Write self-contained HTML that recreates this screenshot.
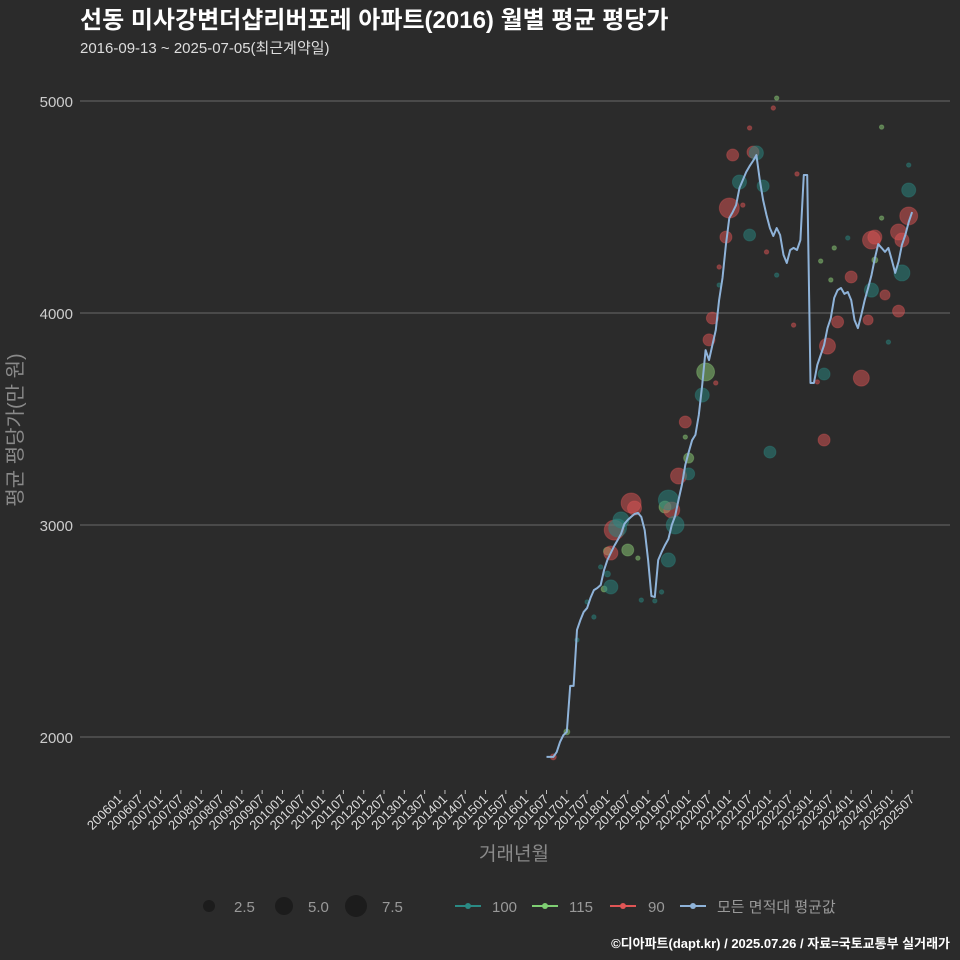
<!DOCTYPE html>
<html><head><meta charset="utf-8"><style>
body{margin:0;background:#2b2b2b;}
svg{display:block;font-family:"Liberation Sans","Noto Sans CJK KR",sans-serif;}
</style></head><body>
<svg id="c" width="960" height="960" viewBox="0 0 960 960">
<rect width="960" height="960" fill="#2b2b2b"/>
<text x="80" y="28" fill="#ffffff" font-size="24" font-weight="bold">선동 미사강변더샵리버포레 아파트(2016) 월별 평균 평당가</text>
<text x="80" y="53" fill="#dddddd" font-size="15">2016-09-13 ~ 2025-07-05(최근계약일)</text>
<g id="grid"></g>
<g id="yax"></g>
<g id="xax"></g>
<g id="pts"></g>
<g id="ln"></g>
<text transform="translate(22,430) rotate(-90)" text-anchor="middle" fill="#8a8a8a" font-size="20">평균 평당가(만 원)</text>
<text x="514" y="860" text-anchor="middle" fill="#8a8a8a" font-size="19">거래년월</text>
<g>
<circle cx="209" cy="906" r="6" fill="#1c1c1c"/>
<text x="234" y="912" fill="#999" font-size="15">2.5</text>
<circle cx="284" cy="906" r="9" fill="#1c1c1c"/>
<text x="308" y="912" fill="#999" font-size="15">5.0</text>
<circle cx="356" cy="906" r="11" fill="#1c1c1c"/>
<text x="382" y="912" fill="#999" font-size="15">7.5</text>
<line x1="455" y1="906" x2="481" y2="906" stroke="#2a8a84" stroke-width="2"/>
<circle cx="468" cy="906" r="3" fill="#2a8a84"/>
<text x="492" y="912" fill="#999" font-size="15">100</text>
<line x1="532" y1="906" x2="558" y2="906" stroke="#7fcf73" stroke-width="2"/>
<circle cx="545" cy="906" r="3" fill="#7fcf73"/>
<text x="569" y="912" fill="#999" font-size="15">115</text>
<line x1="610" y1="906" x2="636" y2="906" stroke="#e05555" stroke-width="2"/>
<circle cx="623" cy="906" r="3" fill="#e05555"/>
<text x="648" y="912" fill="#999" font-size="15">90</text>
<line x1="680" y1="906" x2="706" y2="906" stroke="#8fb3d9" stroke-width="2"/>
<circle cx="693" cy="906" r="3" fill="#8fb3d9"/>
<text x="717" y="912" fill="#999" font-size="15">모든 면적대 평균값</text>
</g>
<text x="950" y="948" text-anchor="end" fill="#ffffff" font-size="13" font-weight="bold">©디아파트(dapt.kr) / 2025.07.26 / 자료=국토교통부 실거래가</text>
</svg>
<script>
// months counted from 2006-01 (index 0)
const yTicks=[2000,3000,4000,5000];
const lineStart=126;
const lineValues=[1906,1906,1906,1929,1976,2009,2024,2241,2241,2505,2552,2590,2608,2656,2693,2703,2717,2788,2835,2868,2901,2929,2958,3005,3024,3038,3052,3057,3038,2976,2835,2665,2660,2835,2872,2905,2934,3000,3042,3118,3189,3283,3344,3400,3425,3519,3660,3825,3778,3849,3920,4061,4165,4321,4448,4476,4509,4590,4627,4665,4693,4717,4745,4627,4533,4462,4401,4363,4401,4368,4274,4236,4297,4307,4297,4344,4651,4651,3670,3670,3755,3802,3849,3929,3976,4071,4108,4118,4090,4099,4061,3967,3929,3991,4061,4118,4179,4259,4325,4307,4288,4307,4250,4189,4241,4321,4368,4429,4476];
const ptMonth=[128,132,135,138,140,142,144,143,145,144,145,146,147,148,151,152,150,153,154,158,160,161,163,164,162,162,165,168,168,167,167,172,173,176,174,175,177,177,179,180,183,181,186,187,188,190,184,191,194,192,186,194,193,200,199,206,208,208,209,212,210,207,211,215,216,219,221,222,222,223,223,225,226,230,230,231,233,233,231,233,225,227];
const ptValue=[1906,2024,2458,2637,2566,2802,2769,2698,2708,2877,2868,2976,2986,3024,3104,3080,2882,2844,2646,2642,2684,3085,3071,3000,2835,3118,3231,3241,3316,3415,3486,3613,3722,3670,3873,3976,4217,4132,4358,4495,4618,4745,4368,4759,4755,4599,4509,4288,4179,3344,4873,5014,4967,4656,3943,3675,3712,3401,3844,3958,4156,4245,4307,4354,4170,3693,3967,4108,4344,4358,4250,4448,4085,4009,4382,4189,4458,4580,4344,4698,4877,3863];
const ptSize=[0.56,0.56,0.25,0.25,0.25,0.25,0.56,0.56,3.1,1,3.1,6.25,5,4,6.25,3.1,2.25,0.25,0.25,0.25,0.25,2.25,4,5,3.1,6.25,4,2.25,1.6,0.25,2.25,3.1,5,0.25,2.25,2.25,0.25,0.25,2.25,6.25,3.1,2.25,2.25,2.25,3.1,2.25,0.25,0.25,0.25,2.25,0.25,0.25,0.25,0.25,0.25,0.25,2.25,2.25,4,2.25,0.25,0.25,0.25,0.25,2.25,4,1.6,3.1,5,3.1,0.56,0.25,1.6,2.25,4,4,5,3.1,3.1,0.25,0.25,0.25];
const ptType=["90","115","100","100","100","100","100","115","100","115","90","90","100","100","90","90","115","115","100","100","100","115","90","100","100","100","90","100","115","115","90","100","115","90","90","90","90","100","90","90","100","90","100","90","100","100","90","90","100","100","90","115","90","90","90","90","100","90","90","90","115","115","115","100","90","90","90","100","90","90","115","115","90","90","90","100","90","100","90","100","115","100"];
const colors={"100":"#2a8a84","115":"#8fd17a","90":"#e05555"};
const NS="http://www.w3.org/2000/svg";
const X=m=>120+3.385*m;
const Y=v=>737-(v-2000)*0.212;
function mk(tag,attrs,parent){const e=document.createElementNS(NS,tag);for(const k in attrs)e.setAttribute(k,attrs[k]);parent.appendChild(e);return e;}
const grid=document.getElementById('grid'),yax=document.getElementById('yax'),xax=document.getElementById('xax');
yTicks.forEach(t=>{
 const l=mk('line',{x1:80,x2:950,y1:Y(t),y2:Y(t),stroke:'#6a6a6a','stroke-width':1},grid);
 
 
 const tx=mk('text',{x:73,y:Y(t)+6,'text-anchor':'end',fill:'#cccccc','font-size':15},yax);
 tx.textContent=t;
 
 
});
for(let m=0;m<=234;m+=6){
 const yr=2006+Math.floor(m/12),mo=m%12+1;
 const lab=yr+(mo<10?'0':'')+mo;
 const x=X(m);
 const tk=mk('line',{x1:x,x2:x,y1:790,y2:794,stroke:'#bbbbbb'},xax);
 
 
 const tx=mk('text',{transform:`translate(${x+3},${800}) rotate(-45)`,'text-anchor':'end',fill:'#dddddd','font-size':13},xax);
 tx.textContent=lab;
 
 
}
const pts=document.getElementById('pts');
ptValue.forEach((v,i)=>{
 const c=mk('circle',{cx:X(ptMonth[i]),cy:Y(v),r:Math.max(2.2,4*Math.sqrt(ptSize[i])),fill:colors[ptType[i]],'fill-opacity':0.5,stroke:colors[ptType[i]],'stroke-opacity':0.35},pts);
 
 
});
const d=lineValues.map((v,i)=>(i?'L':'M')+X(lineStart+i).toFixed(1)+','+Y(v).toFixed(1)).join('');
const p=mk('path',{d:d,fill:'none',stroke:'#8fb3d9','stroke-width':2,'stroke-linejoin':'round'},document.getElementById('ln'));


</script>
</body></html>
